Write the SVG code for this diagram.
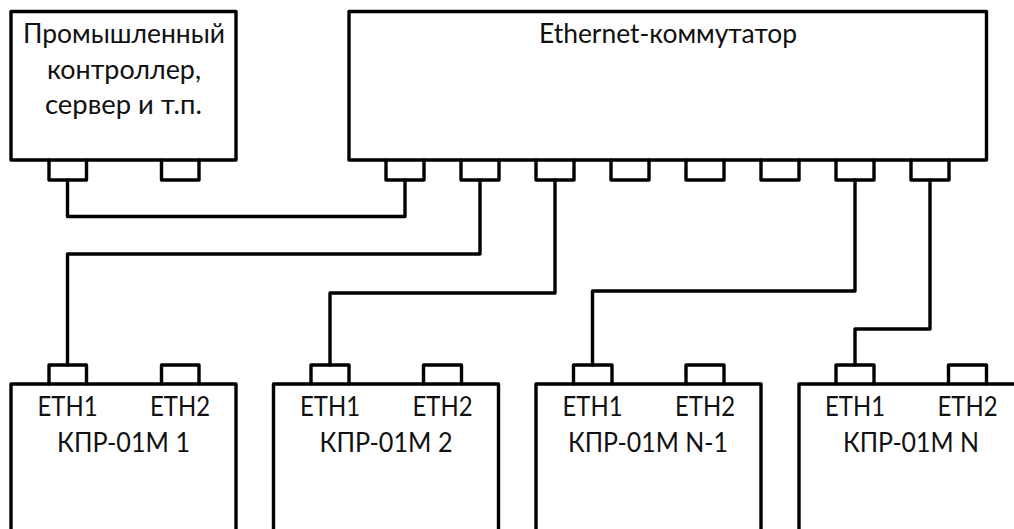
<svg xmlns="http://www.w3.org/2000/svg" width="1014" height="529" viewBox="0 0 1014 529">
<style>
.s{fill:none;stroke:#000;stroke-width:3.4;stroke-linejoin:round;stroke-linecap:round}
text{font-family:"Lato","Liberation Sans",sans-serif;font-size:26px;fill:#111;text-anchor:middle}
</style>
<rect width="1014" height="529" fill="#fff"/>
<g id="connectors" class="s">
<path d="M67.5 180V216.5H405V180"/>
<path d="M480 180V254H67.5V365"/>
<path d="M555 180V293H330V365"/>
<path d="M855 180V291H592.5V365"/>
<path d="M930 180V329H855V365"/>
</g>
<g id="controller">
<rect class="s" x="11" y="11.5" width="225" height="148.5"/>
<path class="s" d="M49 160V180H86.5V160M161.500 160V180H199V160"/>
<text x="124" y="42.500" textLength="202" lengthAdjust="spacingAndGlyphs">Промышленный</text>
<text x="124" y="78.500" textLength="154" lengthAdjust="spacingAndGlyphs">контроллер,</text>
<text x="123.500" y="113.500" textLength="157" lengthAdjust="spacingAndGlyphs">сервер и т.п.</text>
</g>
<g id="switch">
<rect class="s" x="349" y="11.500" width="637.500" height="148.500"/>
<path class="s" d="M386 160V180H424V160M461 160V180H499V160M536 160V180H574V160M611 160V180H649V160M686 160V180H724V160M761 160V180H799V160M836 160V180H874V160M911 160V180H949V160"/>
<text x="668" y="42.500" textLength="258" lengthAdjust="spacingAndGlyphs">Ethernet-коммутатор</text>
</g>
<g id="kpr1">
<path class="s" d="M11 540V384H236V540"/>
<path class="s" d="M49 384V365H86.500V384M161.500 384V365H199V384"/>
<text x="67.500" y="415.500" textLength="60" lengthAdjust="spacingAndGlyphs">ETH1</text><text x="180" y="415.500" textLength="60" lengthAdjust="spacingAndGlyphs">ETH2</text>
<text x="123.500" y="451.500" textLength="133" lengthAdjust="spacingAndGlyphs">КПР-01М 1</text>
</g>
<g id="kpr2">
<path class="s" d="M273.500 540V384H498.500V540"/>
<path class="s" d="M311 384V365H349V384M423.500 384V365H461.500V384"/>
<text x="330" y="415.500" textLength="60" lengthAdjust="spacingAndGlyphs">ETH1</text><text x="442.500" y="415.500" textLength="60" lengthAdjust="spacingAndGlyphs">ETH2</text>
<text x="386" y="451.500" textLength="133" lengthAdjust="spacingAndGlyphs">КПР-01М 2</text>
</g>
<g id="kprN1">
<path class="s" d="M536 540V384H761V540"/>
<path class="s" d="M573.500 384V365H612V384M686 384V365H724V384"/>
<text x="592.500" y="415.500" textLength="60" lengthAdjust="spacingAndGlyphs">ETH1</text><text x="705" y="415.500" textLength="60" lengthAdjust="spacingAndGlyphs">ETH2</text>
<text x="648" y="451.500" textLength="160" lengthAdjust="spacingAndGlyphs">КПР-01М N-1</text>
</g>
<g id="kprN">
<path class="s" d="M799 540V384H1020"/>
<path class="s" d="M836 384V365H874V384M948.500 384V365H986.500V384"/>
<text x="855" y="415.500" textLength="60" lengthAdjust="spacingAndGlyphs">ETH1</text><text x="967.500" y="415.500" textLength="60" lengthAdjust="spacingAndGlyphs">ETH2</text>
<text x="911" y="451.500" textLength="136" lengthAdjust="spacingAndGlyphs">КПР-01М N</text>
</g>
</svg>
